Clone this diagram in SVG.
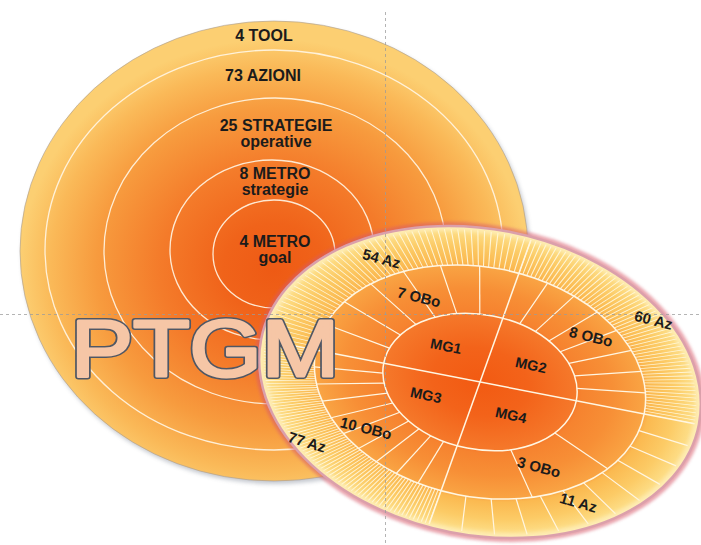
<svg xmlns="http://www.w3.org/2000/svg" width="701" height="545" viewBox="0 0 701 545">
  <defs>
    <radialGradient id="gBig" cx="0.5" cy="0.54" r="0.5">
      <stop offset="0" stop-color="#ee5a14"/>
      <stop offset="0.2" stop-color="#f0631a"/>
      <stop offset="0.45" stop-color="#f47b2a"/>
      <stop offset="0.7" stop-color="#f79b3e"/>
      <stop offset="0.88" stop-color="#fab958"/>
      <stop offset="1" stop-color="#fccf72"/>
    </radialGradient>
    <radialGradient id="gWheel" cx="0.5" cy="0.5" r="0.5">
      <stop offset="0" stop-color="#f25a12"/>
      <stop offset="0.22" stop-color="#f3631a"/>
      <stop offset="0.43" stop-color="#f5782a"/>
      <stop offset="0.46" stop-color="#f6832f"/>
      <stop offset="0.6" stop-color="#f78f36"/>
      <stop offset="0.74" stop-color="#f9a343"/>
      <stop offset="0.77" stop-color="#fbb950"/>
      <stop offset="0.88" stop-color="#fccb66"/>
      <stop offset="0.96" stop-color="#fddc84"/>
      <stop offset="1" stop-color="#fde6a6"/>
    </radialGradient>
    <filter id="soft" x="-10%" y="-10%" width="120%" height="120%">
      <feGaussianBlur stdDeviation="2.2"/>
    </filter>
    <filter id="halo" x="-10%" y="-10%" width="120%" height="120%">
      <feGaussianBlur stdDeviation="1.8"/>
    </filter>
    <clipPath id="wheelClip">
      <ellipse rx="223" ry="153"/>
    </clipPath>
    <style>
      .lbl{font-family:"Liberation Sans",Arial,sans-serif;font-weight:bold;fill:#1b1b1b;text-anchor:middle}
      .big{font-size:16px}
      .w{font-size:15px}
      .mg{font-size:14.5px}
      .ring{fill:none;stroke:#fff6e6;stroke-width:1.3;opacity:.9}
      .sp{stroke:#fff6e2;stroke-width:1.2;vector-effect:non-scaling-stroke}
      .wr{fill:none;stroke:#fff6e2;stroke-width:1.5;vector-effect:non-scaling-stroke}
      .st{fill:none;stroke:#fffbe8;stroke-width:0.23;opacity:.85}
      .guide{stroke:#9b9b9b;stroke-width:1;stroke-dasharray:3 3;fill:none;opacity:.75}
      .title{font-family:"Liberation Sans",Arial,sans-serif;font-size:80px;fill:#f6c6a6;stroke-linejoin:round}
      .edge{stroke:#4f5765;stroke-width:6}
      .body{stroke:#f6c6a6;stroke-width:3}
    </style>
  </defs>

  <rect width="701" height="545" fill="#ffffff"/>

  <!-- nested levels of the plan -->
  <g id="levels">
    <ellipse cx="276" cy="254" rx="254" ry="230" fill="#7d8595" opacity="0.45" filter="url(#soft)"/>
    <ellipse cx="274" cy="251" rx="254" ry="230" fill="url(#gBig)" stroke="#a89c92" stroke-width="1" stroke-opacity="0.6"/>
    <ellipse class="ring" cx="274" cy="250" rx="229" ry="200"/>
    <ellipse class="ring" cx="275" cy="251" rx="171" ry="153"/>
    <ellipse class="ring" cx="272" cy="250" rx="102" ry="90"/>
    <ellipse class="ring" cx="274" cy="254" rx="61" ry="54"/>
    <text class="lbl big" x="264" y="40.5">4 TOOL</text>
    <text class="lbl big" x="263" y="80.5">73 AZIONI</text>
    <text class="lbl big" x="276" y="130.5">25 STRATEGIE</text>
    <text class="lbl big" x="276" y="146.5">operative</text>
    <text class="lbl big" x="275" y="178.5">8 METRO</text>
    <text class="lbl big" x="275" y="194.5">strategie</text>
    <text class="lbl big" x="275" y="246.5">4 METRO</text>
    <text class="lbl big" x="275" y="262.5">goal</text>
  </g>

  <!-- goal wheel: 4 goals, objectives ring, actions ring -->
  <g id="wheel">
    <g transform="translate(480 382) rotate(11)">
      <ellipse rx="224" ry="154" fill="none" stroke="#d85a6a" stroke-width="6" opacity="0.55" filter="url(#halo)"/>
      <ellipse rx="223" ry="153" fill="url(#gWheel)"/>
      <g transform="scale(223 153)">
        <!-- action stripes per goal -->
        <path class="st" d="M-0.865 0A0.865 0.865 0 0 1 0.090417 -0.860262" stroke-dasharray="0.005 0.0218393" stroke-dashoffset="0.0025"/>
        <path class="st" d="M0.090417 -0.860262A0.865 0.865 0 0 1 0.865 0" stroke-dasharray="0.005 0.016136" stroke-dashoffset="0.0025"/>
        <path class="st" d="M-0.090417 0.860262A0.865 0.865 0 0 1 -0.865 0" stroke-dasharray="0.005 0.0114696" stroke-dashoffset="0.0025"/>
        <!-- MG4 action spokes -->
        <g>
          <line class="sp" x1="0.75" x2="0.98" transform="rotate(8.73)"/>
          <line class="sp" x1="0.75" x2="0.98" transform="rotate(17.45)"/>
          <line class="sp" x1="0.75" x2="0.98" transform="rotate(26.18)"/>
          <line class="sp" x1="0.75" x2="0.98" transform="rotate(34.91)"/>
          <line class="sp" x1="0.75" x2="0.98" transform="rotate(43.64)"/>
          <line class="sp" x1="0.75" x2="0.98" transform="rotate(52.36)"/>
          <line class="sp" x1="0.75" x2="0.98" transform="rotate(61.09)"/>
          <line class="sp" x1="0.75" x2="0.98" transform="rotate(69.82)"/>
          <line class="sp" x1="0.75" x2="0.98" transform="rotate(78.55)"/>
          <line class="sp" x1="0.75" x2="0.98" transform="rotate(87.27)"/>
        </g>
        <!-- objective spokes -->
        <g>
          <line class="sp" x1="0.44" x2="0.75" transform="rotate(-73.5)"/>
          <line class="sp" x1="0.44" x2="0.75" transform="rotate(-63)"/>
          <line class="sp" x1="0.44" x2="0.75" transform="rotate(-52.5)"/>
          <line class="sp" x1="0.44" x2="0.75" transform="rotate(-42)"/>
          <line class="sp" x1="0.44" x2="0.75" transform="rotate(-31.5)"/>
          <line class="sp" x1="0.44" x2="0.75" transform="rotate(-21)"/>
          <line class="sp" x1="0.44" x2="0.75" transform="rotate(-10.5)"/>
          <line class="sp" x1="0.44" x2="0.75" transform="rotate(32)"/>
          <line class="sp" x1="0.44" x2="0.75" transform="rotate(64)"/>
          <line class="sp" x1="0.44" x2="0.75" transform="rotate(104.4)"/>
          <line class="sp" x1="0.44" x2="0.75" transform="rotate(112.8)"/>
          <line class="sp" x1="0.44" x2="0.75" transform="rotate(121.2)"/>
          <line class="sp" x1="0.44" x2="0.75" transform="rotate(129.6)"/>
          <line class="sp" x1="0.44" x2="0.75" transform="rotate(138)"/>
          <line class="sp" x1="0.44" x2="0.75" transform="rotate(146.4)"/>
          <line class="sp" x1="0.44" x2="0.75" transform="rotate(154.8)"/>
          <line class="sp" x1="0.44" x2="0.75" transform="rotate(163.2)"/>
          <line class="sp" x1="0.44" x2="0.75" transform="rotate(171.6)"/>
          <line class="sp" x1="0.44" x2="0.75" transform="rotate(193.71)"/>
          <line class="sp" x1="0.44" x2="0.75" transform="rotate(207.43)"/>
          <line class="sp" x1="0.44" x2="0.75" transform="rotate(221.14)"/>
          <line class="sp" x1="0.44" x2="0.75" transform="rotate(234.86)"/>
          <line class="sp" x1="0.44" x2="0.75" transform="rotate(248.57)"/>
          <line class="sp" x1="0.44" x2="0.75" transform="rotate(262.29)"/>
        </g>
        <!-- quadrant dividers and ring outlines -->
        <line class="wr" x1="-0.98" x2="0.98"/>
        <line class="wr" x1="-0.98" x2="0.98" transform="rotate(96)"/>
        <circle class="wr" r="0.44"/>
        <circle class="wr" r="0.75"/>
      </g>
      <ellipse rx="223" ry="153" fill="none" stroke="#fff2c0" stroke-width="10" opacity="0.65" filter="url(#soft)" clip-path="url(#wheelClip)"/>
      <ellipse rx="223" ry="153" fill="none" stroke="#dba0ab" stroke-width="2.5"/>
    </g>
    <text class="lbl mg" transform="translate(446 346) rotate(11)" y="5.2">MG1</text>
    <text class="lbl mg" transform="translate(531 365) rotate(12)" y="5.2">MG2</text>
    <text class="lbl mg" transform="translate(426 395) rotate(12)" y="5.2">MG3</text>
    <text class="lbl mg" transform="translate(511 415) rotate(12)" y="5.2">MG4</text>
    <text class="lbl w" transform="translate(419 297) rotate(14)" y="5.4">7 OBo</text>
    <text class="lbl w" transform="translate(591 336.5) rotate(14)" y="5.4">8 OBo</text>
    <text class="lbl w" transform="translate(366 428) rotate(14)" y="5.4">10 OBo</text>
    <text class="lbl w" transform="translate(539 467) rotate(15)" y="5.4">3 OBo</text>
    <text class="lbl w" transform="translate(381.5 258.5) rotate(15)" y="5.4">54 Az</text>
    <text class="lbl w" transform="translate(653.5 320) rotate(14)" y="5.4">60 Az</text>
    <text class="lbl w" transform="translate(307 442) rotate(17)" y="5.4">77 Az</text>
    <text class="lbl w" transform="translate(578.5 502.5) rotate(16)" y="5.4">11 Az</text>
  </g>

  <g id="connectors"/>

  <!-- layout guides -->
  <g id="guides">
    <line class="guide" x1="0" y1="314.5" x2="701" y2="314.5"/>
    <line class="guide" x1="385.5" y1="12" x2="385.5" y2="545"/>
  </g>

  <!-- outlined title: dark edge layer, then a fattened body layer on top -->
  <g id="title" transform="translate(71 376.3) scale(1.16 1)">
    <text class="title edge">PTGM</text>
    <text class="title body">PTGM</text>
  </g>
</svg>
